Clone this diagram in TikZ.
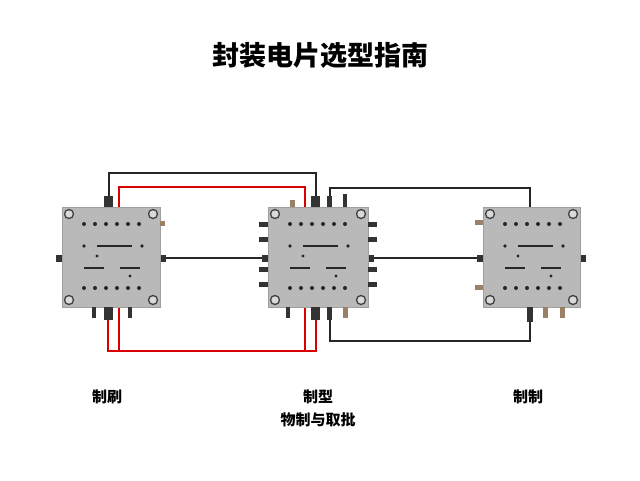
\documentclass[tikz,border=0pt]{standalone}
\usepackage{fontspec}
\newfontfamily\cjk{Noto Sans CJK SC}
\begin{document}
\begin{tikzpicture}[x=1pt,y=-1pt,
 plate/.style={fill=gray!55,draw=gray!75,line width=0.8pt},
 hole/.style={circle,fill=gray!30,draw=gray!50!black,line width=1.3pt,inner sep=0pt,minimum size=9pt},
 pin/.style={fill=black!80},
 bw/.style={line width=1.6pt,black!85},
 rw/.style={line width=1.6pt,red!85!black},
 lbl/.style={font=\cjk\bfseries\fontsize{15}{18}\selectfont}]
\useasboundingbox (0,0) rectangle (640,480);
\node[font=\cjk\bfseries\fontsize{27}{30}\selectfont] (title) at (320,55) {封装电片选型指南};
% wires
\draw[bw] (109,207) -- (109,173) -- (316,173) -- (316,207);
\draw[rw] (119,207) -- (119,187) -- (305,187) -- (305,207);
\draw[rw] (108,307) -- (108,351) -- (316,351) -- (316,307);
\draw[rw] (119,307) -- (119,351);
\draw[rw] (305,307) -- (305,351);
\draw[bw] (330,207) -- (330,188) -- (530,188) -- (530,207);
\draw[bw] (330,307) -- (330,341) -- (530,341) -- (530,307);
\draw[bw] (160,258) -- (268,258);
\draw[bw] (368,258) -- (483,258);
% plates
\foreach \n/\a/\b in {L/62/160, M/268/368, R/483/580}{
 \fill[pin] (\a-6,255) rectangle (\a,262);
 \fill[pin] (\b,255) rectangle (\b+6,262);
 \draw[plate] (\a,207) rectangle (\b,307);
 \node[hole] (\n h1) at (\a+7,214) {};
 \node[hole] (\n h2) at (\b-7,214) {};
 \node[hole] (\n h3) at (\a+7,300) {};
 \node[hole] (\n h4) at (\b-7,300) {};
 \foreach \i in {0,...,5}{
  \fill[black!85] (\a+22+\i*11,224) circle (2);
  \fill[black!85] (\a+22+\i*11,288) circle (2);}
 \draw[black!85,line width=1.1pt] (\a+35,246) -- (\a+70,246);
 \draw[black!85,line width=1.1pt] (\a+22,268) -- (\a+42,268);
 \draw[black!85,line width=1.1pt] (\a+58,268) -- (\a+78,268);
 \fill[black!85] (\a+22,246) circle (1.8) (\a+80,246) circle (1.8) (\a+35,256) circle (1.6) (\a+68,276) circle (1.6);
}
% extra pins
\fill[pin] (104,196) rectangle (113,207); \fill[pin] (104,307) rectangle (113,320);
\fill[pin] (92,307) rectangle (96,318); \fill[pin] (128,307) rectangle (132,318);
\fill[pin] (311,196) rectangle (320,207); \fill[pin] (311,307) rectangle (320,320);
\fill[pin] (327,196) rectangle (332,207); \fill[pin] (327,307) rectangle (332,320);
\fill[pin] (343,194) rectangle (347,207); \fill[gray!60!brown] (343,307) rectangle (348,318);
\fill[gray!60!brown] (290,200) rectangle (295,207); \fill[gray!60!brown] (160,221) rectangle (165,226);
\fill[pin] (286,307) rectangle (290,318);
\foreach \y in {225,240,270,285}{\fill[pin] (259,\y-3) rectangle (268,\y+2); \fill[pin] (368,\y-3) rectangle (377,\y+2);}
\fill[pin] (527,307) rectangle (533,322);
\fill[gray!60!brown] (543,307) rectangle (548,318); \fill[gray!60!brown] (560,307) rectangle (565,318);
\fill[gray!60!brown] (475,220) rectangle (483,225); \fill[gray!60!brown] (475,285) rectangle (483,290);
% labels
\node[lbl] (l1) at (107,397) {制刷};
\node[lbl] (l2) at (318,397) {制型};
\node[lbl] (l3) at (318,420) {物制与取批};
\node[lbl] (l4) at (528,397) {制制};
\end{tikzpicture}
\end{document}
